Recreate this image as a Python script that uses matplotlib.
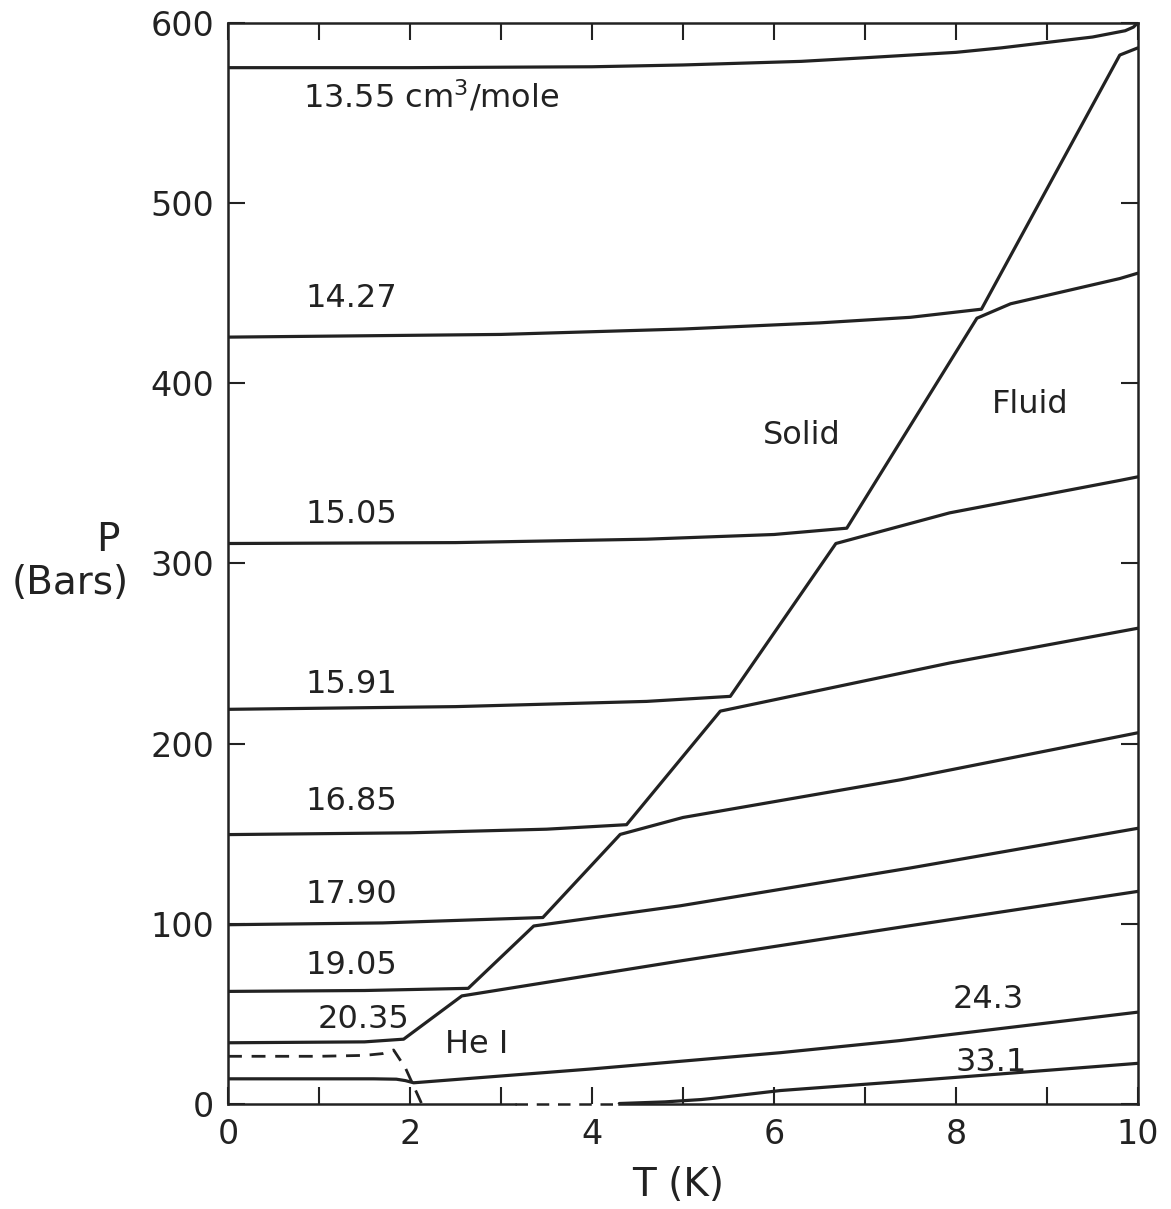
import matplotlib
matplotlib.use("Agg")
import matplotlib.pyplot as plt
from matplotlib.ticker import MultipleLocator

# Isochores of 4He, P (bars) vs T (K)
T_1355 = [0, 2, 4, 5, 6.3, 7, 8, 8.5, 9, 9.5, 9.86, 9.95, 10]
P_1355 = [575, 575, 575.5, 576.5, 578.5, 580.5, 583.5, 586, 589, 592, 595.5, 597.5, 600]

T_1427 = [0, 3, 5, 6.5, 7.5, 8.28, 9.8, 10]
P_1427 = [425.5, 427, 430, 433.4, 436.5, 441, 582, 586]

T_1505 = [0, 2.5, 4.6, 6, 6.8, 8.23, 8.6, 9.8, 10]
P_1505 = [311, 311.5, 313.4, 316, 319.5, 436, 444, 458, 461]

T_1591 = [0, 2.5, 4.6, 5.52, 6.68, 7.93, 9.8, 10]
P_1591 = [219, 220.5, 223.4, 226.2, 311, 328, 346, 348]

T_1685 = [0, 2, 3.5, 4.38, 5.41, 7.93, 10]
P_1685 = [149.5, 150.5, 152.5, 155, 218, 244.7, 264]

T_1790 = [0, 1.7, 3.46, 4.31, 5.0, 7.4, 10]
P_1790 = [99.5, 100.5, 103.5, 149.6, 159, 180, 206]

T_1905 = [0, 1.5, 2.64, 3.36, 4.97, 7.5, 10]
P_1905 = [62.5, 63, 64.2, 98.8, 110, 131, 153]

T_2035 = [0, 1.5, 1.93, 2.57, 4.97, 7.5, 10]
P_2035 = [34, 34.5, 36, 60, 79.4, 99, 118]

T_243 = [0, 1.6, 1.85, 1.95, 2.04, 4, 6.07, 7.38, 10]
P_243 = [14, 14, 13.8, 13, 11.8, 19.5, 28.5, 35.2, 51]

T_331 = [4.3, 4.8, 5.2, 5.3, 6.07, 7.38, 10]
P_331 = [0.3, 1.2, 2.5, 3, 7.5, 12.4, 22.6]

# lambda line (dashed)
T_lam = [0, 1.0, 1.5, 1.7, 1.82, 1.95, 2.13]
P_lam = [26.5, 26.5, 27, 28, 30, 20, 0]

# bottom axis: solid / dashed pieces
axis_solid_1 = [0, 3.15]
axis_dash = [3.15, 4.3]
axis_solid_2 = [4.3, 10]

isochores = [
    (T_1355, P_1355), (T_1427, P_1427), (T_1505, P_1505), (T_1591, P_1591),
    (T_1685, P_1685), (T_1790, P_1790), (T_1905, P_1905), (T_2035, P_2035),
    (T_243, P_243), (T_331, P_331),
]

# labels: (text, T, P)
labels = [
    (r"13.55 cm$^3$/mole", 0.82, 559),
    ("14.27", 0.85, 447),
    ("15.05", 0.85, 327),
    ("15.91", 0.85, 233),
    ("16.85", 0.85, 168),
    ("17.90", 0.85, 116),
    ("19.05", 0.85, 77),
    ("20.35", 0.99, 47),
    ("He I", 2.38, 33),
    ("24.3", 7.96, 58),
    ("33.1", 7.99, 23),
]

col = "#222222"
fig = plt.figure(figsize=(11.71, 12.09), dpi=100)
ax = fig.add_axes([0.1947, 0.0868, 0.7771, 0.8945])

for T, P in isochores:
    ax.plot(T, P, color=col, lw=2.3, solid_joinstyle="round", solid_capstyle="round")

ax.plot(T_lam, P_lam, color=col, lw=2.0, dashes=(5, 3.5))

# bottom axis line drawn by hand (dashed part in the middle)
ax.spines["bottom"].set_visible(False)
ax.plot(axis_solid_1, [0, 0], color=col, lw=1.8, clip_on=False)
ax.plot(axis_dash, [0, 0], color=col, lw=1.8, dashes=(5, 3.5), clip_on=False)
ax.plot(axis_solid_2, [0, 0], color=col, lw=1.8, clip_on=False)

for txt, T, P in labels:
    ax.text(T, P, txt, fontsize=23, ha="left", va="center", color=col)

ax.text(6.3, 371, "Solid", fontsize=23, ha="center", va="center", color=col)
ax.text(8.82, 388, "Fluid", fontsize=23, ha="center", va="center", color=col)

ax.set_xlim(0, 10)
ax.set_ylim(0, 600)
ax.xaxis.set_major_locator(MultipleLocator(2))
ax.xaxis.set_minor_locator(MultipleLocator(1))
ax.yaxis.set_major_locator(MultipleLocator(100))
ax.tick_params(which="both", direction="in", length=12, width=1.5,
               top=True, right=True, labelsize=24, pad=10, colors=col)

for s in ["top", "left", "right"]:
    ax.spines[s].set_linewidth(1.8)
    ax.spines[s].set_color(col)

fig.text(0.579, 0.020, "T (K)", fontsize=28, ha="center", va="center", color=col)
fig.text(0.092, 0.553, "P", fontsize=28, ha="center", va="center", color=col)
fig.text(0.060, 0.518, "(Bars)", fontsize=28, ha="center", va="center", color=col)

fig.savefig("out.png", dpi=100)
